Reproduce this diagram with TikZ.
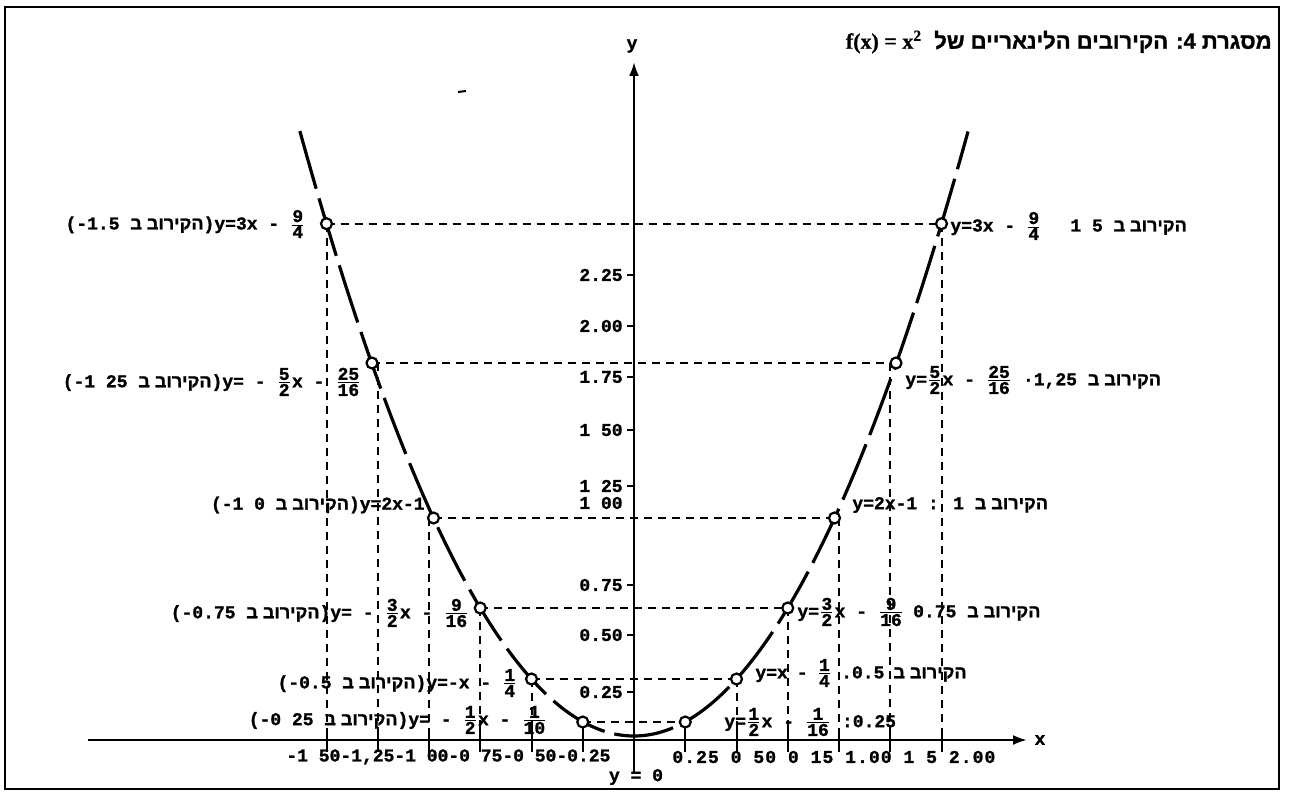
\documentclass[tikz,border=0pt]{standalone}
\usepackage{fontspec}
\setmainfont{Liberation Mono}[BoldFeatures={FakeBold=1.3}]
\newfontfamily\hebfont{Liberation Sans}[Script=Hebrew, BoldFeatures={FakeBold=1.3}]
\newfontfamily\serfont{Liberation Serif}[BoldFeatures={FakeBold=0.8}]
\TeXXeTstate=1
\usetikzlibrary{arrows.meta}
\newcommand\heb[1]{{\hebfont\bfseries\beginR #1\endR}}
\newcommand\fr[2]{$\frac{\mbox{#1}}{\mbox{#2}}$}
\tikzset{
  lbl/.style={font=\fontsize{9}{11}\selectfont\bfseries, inner sep=0pt},
  ttl/.style={font=\fontsize{11}{13}\selectfont\bfseries, inner sep=0pt},
  ptc/.style={circle, draw, fill=white, line width=1.1pt, minimum size=5.5pt, inner sep=0pt},
  gridl/.style={line width=1pt, dash pattern=on 4pt off 3pt},
  curvel/.style={line width=1.6pt, dash pattern=on 30pt off 5pt},
  axisl/.style={line width=1.2pt, -{Latex[length=7pt,width=5pt]}},
  tickl/.style={line width=1pt}
}
\begin{document}
\begin{tikzpicture}[x=0.5pt,y=-0.5pt]
\useasboundingbox (0,0) rectangle (1289,796);
\draw[line width=1pt] (5,7) rectangle (1279,789);
% title
\node[ttl, anchor=east] (title) at (1272,42) {\heb{מסגרת \beginL 4\endL: הקירובים הלינאריים של \ \beginL{\serfont\bfseries f(x)\ =\ x\textsuperscript{2}}\endL}};
\draw[line width=1pt] (458,92) -- (466,91);
% tick coordinates on x axis
\coordinate (tm6) at (326.5,740);
\coordinate (tm5) at (377.75,740);
\coordinate (tm4) at (429,740);
\coordinate (tm3) at (480.25,740);
\coordinate (tm2) at (531.5,740);
\coordinate (tm1) at (582.75,740);
\coordinate (t0) at (634,740);
\coordinate (tp1) at (685.25,740);
\coordinate (tp2) at (736.5,740);
\coordinate (tp3) at (787.75,740);
\coordinate (tp4) at (839,740);
\coordinate (tp5) at (890.25,740);
\coordinate (tp6) at (941.5,740);
% axes
\coordinate (xs) at (88,740);
\coordinate (xe) at (1027,740);
\coordinate (ys) at (634,772);
\coordinate (ye) at (634,62);
\draw[axisl] (xs) -- (xe);
\draw[axisl] (ys) -- (ye);
\node[lbl] (xlab) at (1040,740) {x};
\node[lbl] (ylab) at (632,46) {y};
\foreach \t in {tm6,tm5,tm4,tm3,tm2,tm1,tp1,tp2,tp3,tp4,tp5,tp6}
  \draw[tickl] ([yshift=6]\t) -- ([yshift=-6]\t);
% y ticks and labels
\foreach \yy/\txt in {275/2.25,326/2.00,377/1.75,430/1 50,486/1 25,585/0.75,635/0.50,692/0.25}{
  \draw[tickl] (627,\yy) -- (634,\yy);
  \node[lbl, anchor=east] at (623,\yy) {\txt};
}
\node[lbl, anchor=east] (y100) at (623,503) {1 00};
% curve
\draw[curvel] plot[domain=-1.63:1.63, samples=120, smooth] ({634+205*\x},{736-227.7*\x*\x});
% point positions
\coordinate (pL1) at (326.5,223.7);
\coordinate (pR1) at (941.5,223.7);
\coordinate (pL2) at (372,363);
\coordinate (pR2) at (896,363);
\coordinate (pL3) at (433.5,518);
\coordinate (pR3) at (834.5,518);
\coordinate (pL4) at (480.25,608);
\coordinate (pR4) at (787.75,608);
\coordinate (pL5) at (531.5,679);
\coordinate (pR5) at (736.5,679);
\coordinate (pL6) at (582.75,722);
\coordinate (pR6) at (685.25,722);
% dashed grid
\draw[gridl] (pL1) -- (pR1);
\draw[gridl] (pL2) -- (pR2);
\draw[gridl] (pL3) -- (tp4 |- pR3);
\draw[gridl] (pL4) -- (pR4);
\draw[gridl] (pL5) -- (pR5);
\draw[gridl] (pL6) -- (pR6);
\draw[gridl] (pL1) -- (tm6);
\draw[gridl] (tm5 |- pL2) -- (tm5);
\draw[gridl] (tm4 |- pL3) -- (tm4);
\draw[gridl] (pL4) -- (tm3);
\draw[gridl] (pL5) -- (tm2);
\draw[gridl] (pL6) -- (tm1);
\draw[gridl] (pR1) -- (tp6);
\draw[gridl] (tp5 |- pR2) -- (tp5);
\draw[gridl] (tp4 |- pR3) -- (tp4);
\draw[gridl] (pR4) -- (tp3);
\draw[gridl] (pR5) -- (tp2);
\draw[gridl] (pR6) -- (tp1);
% point markers
\foreach \p in {pL1,pR1,pL2,pR2,pL3,pR3,pL4,pR4,pL5,pR5,pL6,pR6}
  \node[ptc] (m\p) at (\p) {};
% left labels
\node[lbl, anchor=east] (L1) at (306,224) {(-1.5 \heb{הקירוב ב})y=3x - \fr{9}{4}};
\node[lbl, anchor=east] (L2) at (362,382) {(-1 25 \heb{הקירוב ב})y= - \fr{5}{2}x - \fr{25}{16}};
\node[lbl, anchor=east] (L3) at (425,505) {(-1 0 \heb{הקירוב ב})y=2x-1};
\node[lbl, anchor=east] (L4) at (470,613) {(-0.75 \heb{הקירוב ב})y= - \fr{3}{2}x - \fr{9}{16}};
\node[lbl, anchor=east] (L5) at (518,683) {(-0.5 \heb{הקירוב ב})y=-x - \fr{1}{4}};
\node[lbl, anchor=east] (L6) at (548,720) {(-0 25 \heb{הקירוב ב})y= - \fr{1}{2}x - \fr{1}{10}};
% right labels
\node[lbl, anchor=west] (R1) at (950,226) {y=3x - \fr{9}{4}\quad\ 1 5 \heb{הקירוב ב}};
\node[lbl, anchor=west] (R2) at (905,380) {y=\fr{5}{2}x - \fr{25}{16} ·1,25 \heb{הקירוב ב}};
\node[lbl, anchor=west] (R3) at (852,505) {y=2x-1 : 1 \heb{הקירוב ב}};
\node[lbl, anchor=west] (R4) at (797,612) {y=\fr{3}{2}x - \fr{9}{16}\enspace 0.75 \heb{הקירוב ב}};
\node[lbl, anchor=west] (R5) at (755,673) {y=x\enspace -\enspace \fr{1}{4}\enspace .0.5\enspace \heb{הקירוב ב}};
\node[lbl, anchor=west] (R6) at (724,722) {y=\fr{1}{2}x - \fr{1}{16} :0.25};
% bottom labels
\node[lbl, anchor=west] (bl) at (286,757) {-1 50-1,25-1 00-0 75-0 50-0.25};
\node[lbl, anchor=west] (br) at (672,757) {\addfontfeature{LetterSpace=6}0.25 0 50 0 15 1.00 1 5 2.00};
\node[lbl] (y0) at (636,777) {y = 0};
\end{tikzpicture}
\end{document}
